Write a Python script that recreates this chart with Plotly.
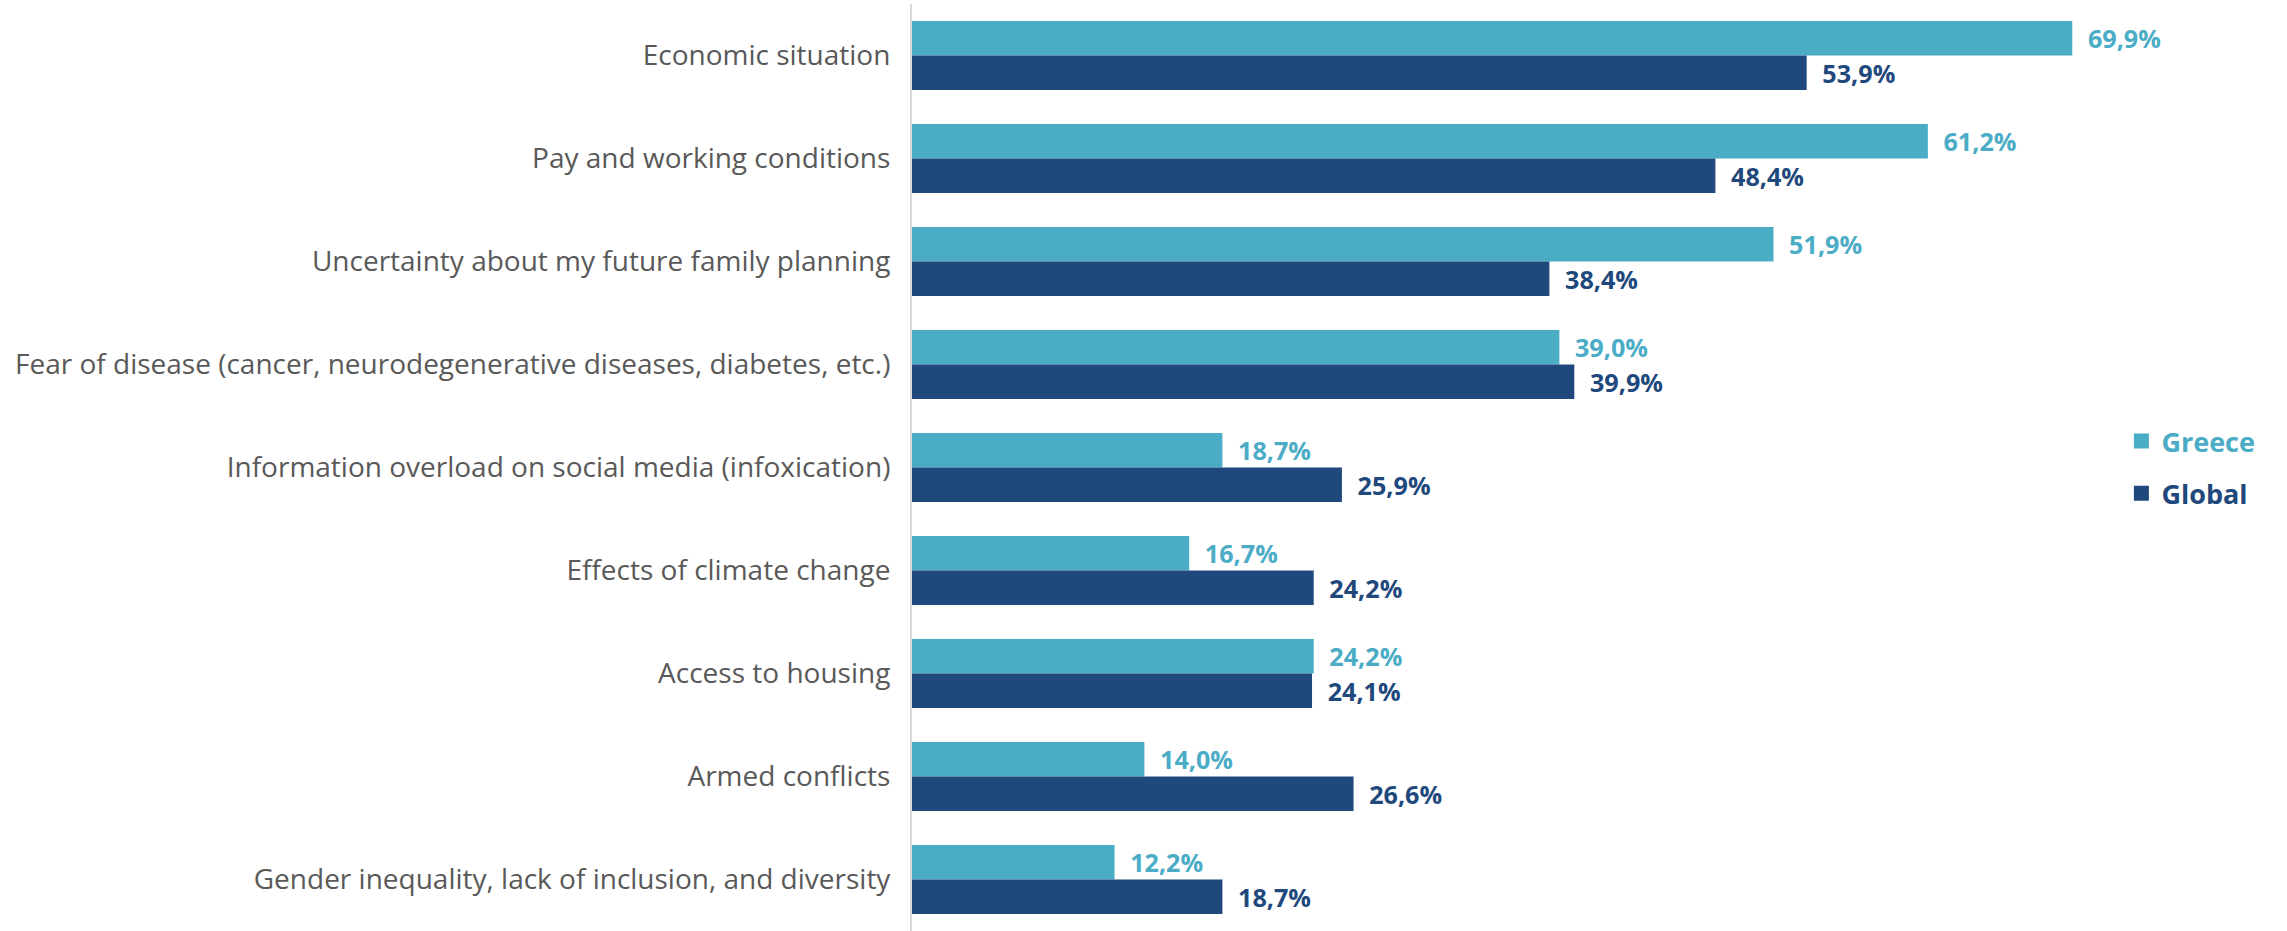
import plotly.graph_objects as go

# Survey concerns, share of respondents (%)
categories = [
    "Economic situation",
    "Pay and working conditions",
    "Uncertainty about my future family planning",
    "Fear of disease (cancer, neurodegenerative diseases, diabetes, etc.)",
    "Information overload on social media (infoxication)",
    "Effects of climate change",
    "Access to housing",
    "Armed conflicts",
    "Gender inequality, lack of inclusion, and diversity",
]
greece = [69.9, 61.2, 51.9, 39.0, 18.7, 16.7, 24.2, 14.0, 12.2]
global_ = [53.9, 48.4, 38.4, 39.9, 25.9, 24.2, 24.1, 26.6, 18.7]

GREECE_COLOR = "#4BACC6"
GLOBAL_COLOR = "#1F497D"
LABEL_FONT = "Open Sans"


def pct_labels(values):
    return ["\u2002" + f"{v:.1f}%".replace(".", ",") for v in values]


series = [("Greece", greece, GREECE_COLOR), ("Global", global_, GLOBAL_COLOR)]

fig = go.Figure()
for name, values, color in series:
    fig.add_trace(go.Bar(
        y=categories,
        x=values,
        orientation="h",
        name=name,
        marker=dict(color=color, line=dict(width=0)),
        text=pct_labels(values),
        textposition="outside",
        textfont=dict(family=LABEL_FONT, size=27, color=color, weight="bold"),
        cliponaxis=False,
        legendgroup=name,
        showlegend=False,
    ))

# Legend entries with larger square swatches and coloured labels
for name, values, color in series:
    fig.add_trace(go.Scatter(
        x=[None],
        y=[None],
        mode="markers",
        marker=dict(symbol="square", size=15, color=color),
        name=f"<b><span style='color:{color}'>{name}</span></b>",
        legendgroup=name,
        showlegend=True,
    ))

fig.update_layout(
    width=2287,
    height=931,
    barmode="group",
    bargap=0.33,
    bargroupgap=0,
    plot_bgcolor="white",
    paper_bgcolor="white",
    margin=dict(l=912, r=187, t=4, b=0),
    xaxis=dict(range=[0, 71.57], visible=False, showgrid=False, zeroline=False),
    yaxis=dict(
        autorange="reversed",
        showline=True,
        linecolor="#D9D9D9",
        linewidth=2,
        showgrid=False,
        ticks="",
        ticklabelstandoff=14,
        tickfont=dict(family=LABEL_FONT, size=28, color="#595959"),
    ),
    legend=dict(
        x=1.018,
        y=0.5,
        xanchor="left",
        yanchor="middle",
        font=dict(family=LABEL_FONT, size=27),
        tracegroupgap=14,
        itemsizing="trace",
        itemwidth=30,
    ),
    showlegend=True,
)

fig.write_html("out.html")
